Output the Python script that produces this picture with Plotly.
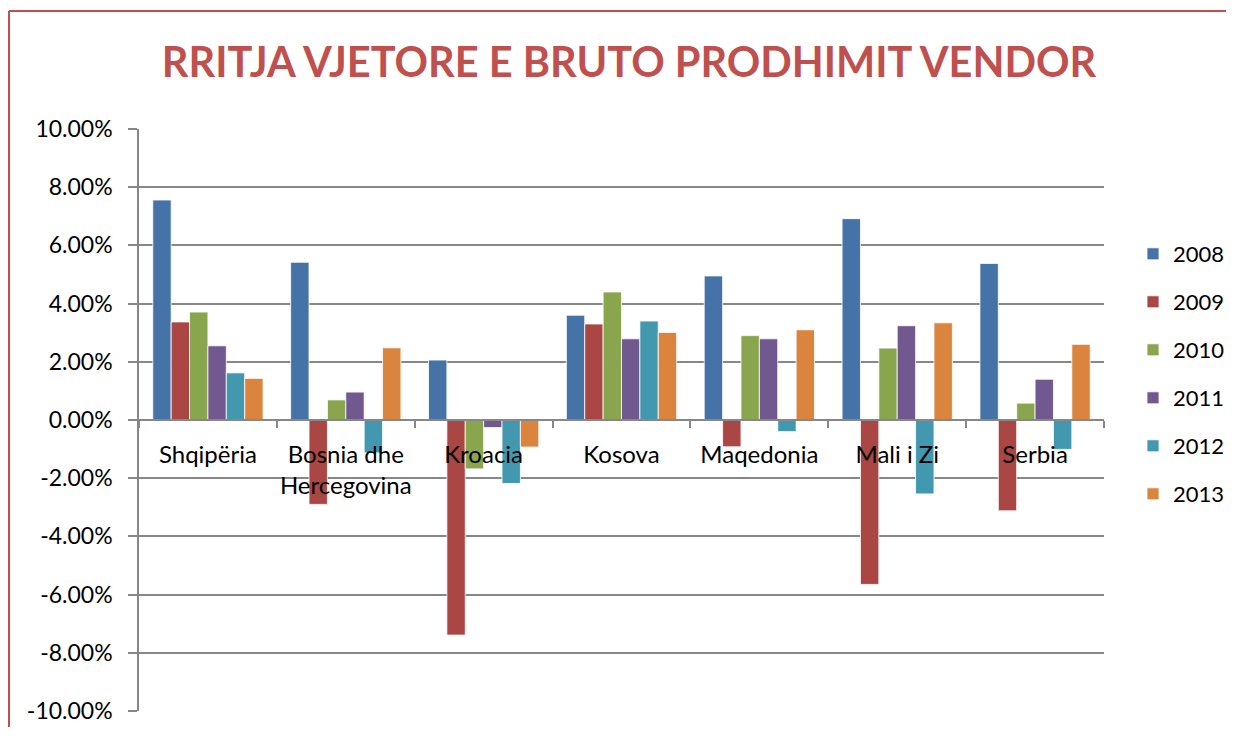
import plotly.graph_objects as go

categories = ["Shqipëria", "Bosnia dhe Hercegovina", "Kroacia", "Kosova",
              "Maqedonia", "Mali i Zi", "Serbia"]
tick_labels = ["Shqipëria", "Bosnia dhe<br>Hercegovina", "Kroacia", "Kosova",
               "Maqedonia", "Mali i Zi", "Serbia"]
years = ["2008", "2009", "2010", "2011", "2012", "2013"]

g2008 = [7.56, 5.42, 2.06, 3.60, 4.95, 6.92, 5.38]
g2009 = [3.37, -2.90, -7.39, 3.30, -0.92, -5.65, -3.12]
g2010 = [3.71, 0.69, -1.68, 4.40, 2.90, 2.47, 0.58]
g2011 = [2.55, 0.96, -0.26, 2.79, 2.79, 3.24, 1.40]
g2012 = [1.62, -1.13, -2.18, 3.40, -0.40, -2.54, -1.01]
g2013 = [1.43, 2.48, -0.93, 3.01, 3.10, 3.34, 2.60]

series = [g2008, g2009, g2010, g2011, g2012, g2013]
colors = ["#4572A7", "#AA4643", "#89A54E", "#71588F", "#4198AF", "#DB843D"]

y_ticks = [-10, -8, -6, -4, -2, 0, 2, 4, 6, 8, 10]
y_tick_text = [f"{v:.2f}%" for v in y_ticks]

# page body has an 8px margin; figure coords = screen coords - 8
OFF = 8
W, H = 1234 - 2 * OFF, 735 - 2 * OFF
L = 139 - OFF
T = 129 - OFF
R = W - (1104 - OFF)
B = H - (711 - OFF)

fig = go.Figure()
for name, vals, col in zip(years, series, colors):
    fig.add_trace(go.Bar(
        x=categories, y=vals, name=name, legendgroup=name,
        marker=dict(color=col, line=dict(color="rgba(255,255,255,0.8)", width=1)),
    ))

grid_col = "#878787"
font_fam = "Lato, 'Open Sans', sans-serif"
pw, ph = W - L - R, H - T - B

fig.update_layout(
    width=W, height=H,
    margin=dict(l=L, r=R, t=T, b=B, pad=0, autoexpand=False),
    paper_bgcolor="white", plot_bgcolor="white",
    barmode="group", bargap=0.2, bargroupgap=0,
    font=dict(family=font_fam, size=22, color="black"),
    title=dict(
        text="<b>RRITJA VJETORE E BRUTO PRODHIMIT VENDOR</b>",
        font=dict(family=font_fam, size=41.5, color="#C0504D"),
        x=(629 - OFF) / W, xanchor="center", xref="container",
        y=1 - (62 - OFF) / H, yanchor="middle", yref="container",
    ),
    legend=dict(
        x=(1133 - OFF - L) / pw, xanchor="left",
        y=(711 - 233) / (711 - 129), yanchor="top",
        font=dict(family=font_fam, size=22, color="black"),
        tracegroupgap=16.4, itemwidth=30,
        bgcolor="rgba(0,0,0,0)",
    ),
    xaxis=dict(
        type="category",
        tickmode="array", tickvals=categories, ticktext=tick_labels,
        anchor="free", position=0.5, tickangle=0,
        showline=True, linecolor=grid_col, linewidth=1.5,
        ticks="outside", tickson="boundaries", ticklen=7, tickcolor=grid_col, tickwidth=1.5,
        ticklabelstandoff=13,
        showgrid=False, zeroline=False,
        tickfont=dict(family=font_fam, size=24, color="black"),
    ),
    yaxis=dict(
        range=[-10, 10], tickmode="array", tickvals=y_ticks, ticktext=y_tick_text,
        showgrid=True, gridcolor=grid_col, gridwidth=1.5,
        zeroline=True, zerolinecolor=grid_col, zerolinewidth=1.5,
        showline=True, linecolor=grid_col, linewidth=1.5,
        ticks="outside", ticklen=9, tickcolor=grid_col, tickwidth=1.5,
        ticklabelstandoff=11,
        tickfont=dict(family=font_fam, size=23, color="black"),
    ),
)

# outer chart border (top and left), in paper coordinates
def px(xpix):
    return (xpix - OFF - L) / pw
def py(ypix):
    return (H - B - (ypix - OFF)) / ph

fig.add_shape(type="line", xref="paper", yref="paper",
              x0=px(9), x1=px(1260), y0=py(11), y1=py(11),
              line=dict(color="#C0504D", width=2))
fig.add_shape(type="line", xref="paper", yref="paper",
              x0=px(9), x1=px(9), y0=py(11), y1=py(760),
              line=dict(color="#C0504D", width=2))

fig.write_html("out.html")
